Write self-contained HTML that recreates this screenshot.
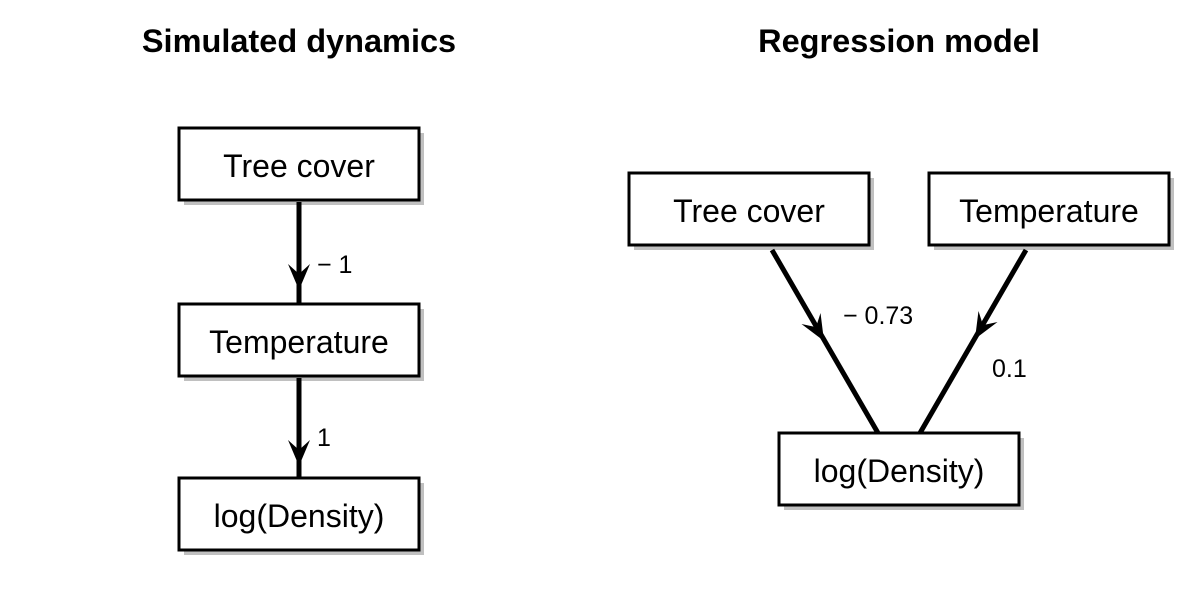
<!DOCTYPE html>
<html><head><style>
body{margin:0;background:#fff}
svg text{font-family:"Liberation Sans",Arial,sans-serif}
</style></head><body>
<svg width="1200" height="600" xmlns="http://www.w3.org/2000/svg">
<rect width="1200" height="600" fill="#fff"/>
<text x="299" y="52" font-size="32.5" font-weight="bold" text-anchor="middle">Simulated dynamics</text>
<text x="899" y="52" font-size="32.5" font-weight="bold" text-anchor="middle">Regression model</text>
<g fill="#c0c0c0">
<rect x="184" y="133" width="240" height="72"/>
<rect x="184" y="309" width="240" height="72"/>
<rect x="184" y="483" width="240" height="72"/>
<rect x="634" y="178" width="240" height="72"/>
<rect x="934" y="178" width="240" height="72"/>
<rect x="784" y="438" width="240" height="72"/>
</g>
<g fill="#fff" stroke="#000" stroke-width="3">
<rect x="179" y="128" width="240" height="72"/>
<rect x="179" y="304" width="240" height="72"/>
<rect x="179" y="478" width="240" height="72"/>
<rect x="629" y="173" width="240" height="72"/>
<rect x="929" y="173" width="240" height="72"/>
<rect x="779" y="433" width="240" height="72"/>
</g>
<g font-size="32" text-anchor="middle">
<text x="299" y="177">Tree cover</text>
<text x="299" y="353">Temperature</text>
<text x="299" y="527">log(Density)</text>
<text x="749" y="222">Tree cover</text>
<text x="1049" y="222">Temperature</text>
<text x="899" y="482">log(Density)</text>
</g>
<g stroke="#000" stroke-width="5">
<line x1="299" y1="202" x2="299" y2="304"/>
<line x1="299" y1="378" x2="299" y2="478"/>
<line x1="772" y1="250" x2="878" y2="433"/>
<line x1="1026" y1="250" x2="920" y2="433"/>
</g>
<g fill="#000">
<polygon points="299,290 288,264 299,274 310,264"/>
<polygon points="299,466 288,440 299,450 310,440"/>
<g transform="translate(824,341) rotate(-30)"><polygon points="0,0 -11,-26 0,-16 11,-26"/></g>
<g transform="translate(975,339) rotate(30)"><polygon points="0,0 -11,-26 0,-16 11,-26"/></g>
</g>
<g font-size="25">
<text x="317" y="273">− 1</text>
<text x="317" y="446">1</text>
<text x="843" y="324">− 0.73</text>
<text x="992" y="377">0.1</text>
</g>
</svg>
</body></html>
